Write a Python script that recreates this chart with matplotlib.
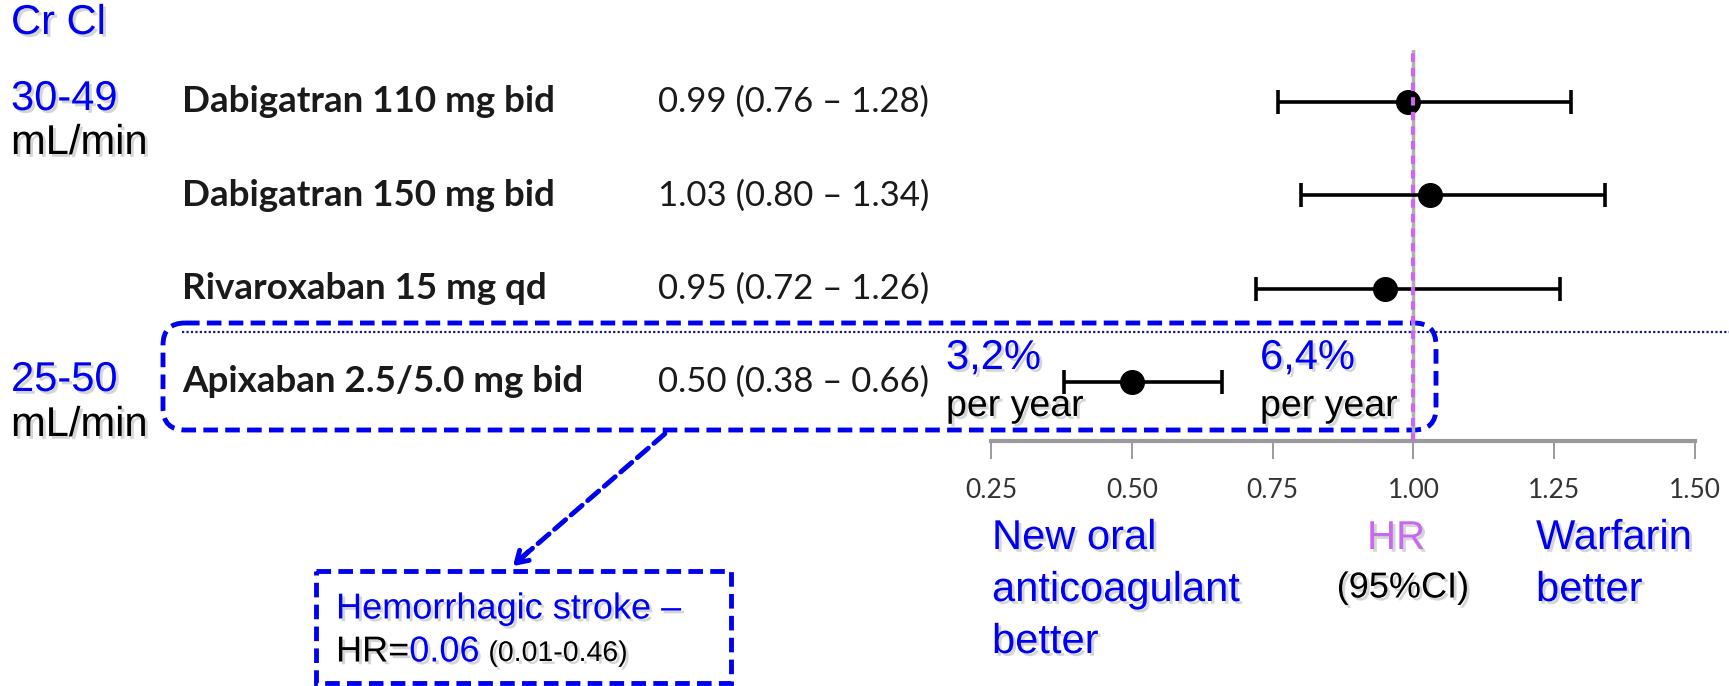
import matplotlib
matplotlib.use("Agg")
import matplotlib.pyplot as plt
import numpy as np
from matplotlib.patches import FancyBboxPatch, Rectangle
from matplotlib.transforms import blended_transform_factory
import matplotlib.patheffects as pe

# ---------------- data ----------------
drugs = ["Dabigatran 110 mg bid", "Dabigatran 150 mg bid",
         "Rivaroxaban 15 mg qd", "Apixaban 2.5/5.0 mg bid"]
hr = np.array([0.99, 1.03, 0.95, 0.50])
ci_low = np.array([0.76, 0.80, 0.72, 0.38])
ci_high = np.array([1.28, 1.34, 1.26, 0.66])
hr_labels = ["0.99 (0.76 \u2013 1.28)", "1.03 (0.80 \u2013 1.34)",
             "0.95 (0.72 \u2013 1.26)", "0.50 (0.38 \u2013 0.66)"]
xticks = [0.25, 0.50, 0.75, 1.00, 1.25, 1.50]
xtick_labels = ["0.25", "0.50", "0.75", "1.00", "1.25", "1.50"]

W, H = 1729, 686
BLUE = "#0000f0"
PURPLE = "#c86af0"

fig = plt.figure(figsize=(W / 100, H / 100), dpi=100)

# overlay axes in pixel units for annotations
ov = fig.add_axes([0, 0, 1, 1])
ov.set_xlim(0, W)
ov.set_ylim(H, 0)
ov.axis("off")

# forest axes: x 0.25 -> px 991, 1.50 -> px 1695 ; top px 50, bottom (axis) px 441
ax_l, ax_r, ax_t, ax_b = 991, 1695, 50, 441
ax = fig.add_axes([ax_l / W, 1 - ax_b / H, (ax_r - ax_l) / W, (ax_b - ax_t) / H])
ax.patch.set_alpha(0)
row0_px, row_step = 102, 93.33
rows = np.arange(len(drugs))
ax.set_xlim(0.25, 1.50)
ax.set_ylim((ax_b - row0_px) / row_step, (ax_t - row0_px) / row_step)
for s in ["top", "left", "right"]:
    ax.spines[s].set_visible(False)
ax.spines["bottom"].set_color("#9a9a9a")
ax.spines["bottom"].set_linewidth(3)
ax.set_yticks([])
ax.set_xticks(xticks)
ax.set_xticklabels(xtick_labels, fontfamily="Lato", fontsize=19, color="#333333")
ax.tick_params(axis="x", length=13, width=1.2, color="#8a8a8a", pad=14)

# reference line at HR = 1
ax.axvline(1.0, color="#b0b0b0", lw=2.5, zorder=1)
ax.axvline(1.0, color=PURPLE, lw=3, ls=(0, (2, 1.5)), zorder=4)

ax.errorbar(hr, rows, xerr=[hr - ci_low, ci_high - hr], fmt="o", color="black",
            ms=17, elinewidth=2.6, capsize=8.6, capthick=2.6, zorder=3, clip_on=False)

# drug names and HR text
tr = blended_transform_factory(fig.transFigure, ax.transData)
for r, name, lab in zip(rows, drugs, hr_labels):
    ax.text(182 / W, r, name, transform=tr, fontfamily="Lato", fontweight="bold",
            fontsize=26.5, va="center", ha="left", color="#1a1a1a")
    ax.text(658 / W, r, lab, transform=tr, fontfamily="Lato",
            fontsize=25, va="center", ha="left", color="#1a1a1a")

# separator dotted line
ov.plot([182, W], [332, 332], color="#1a1a80", lw=1.6, ls=(0, (1, 1)))

shadow = [pe.withSimplePatchShadow(offset=(2, -2), shadow_rgbFace="#888888", alpha=0.35)]

def t(x, y, s, color=BLUE, size=30, ha="left", **kw):
    return ov.text(x, y, s, color=color, fontsize=size, fontfamily="Liberation Sans",
                   ha=ha, va="center", path_effects=shadow, **kw)

t(11, 23, "Cr Cl")
t(11, 99, "30-49")
t(11, 143, "mL/min", color="black")
t(11, 380, "25-50")
t(11, 425, "mL/min", color="black")

t(946, 358, "3,2%")
t(946, 406, "per year", color="black", size=27)
t(1260, 358, "6,4%")
t(1260, 406, "per year", color="black", size=27)

t(992, 538, "New oral")
t(992, 590, "anticoagulant")
t(992, 642, "better")
t(1396, 538, "HR", color=PURPLE, ha="center", size=29)
t(1403, 588, "(95%CI)", color="black", size=26, ha="center")
t(1536, 538, "Warfarin")
t(1536, 590, "better")

# rounded dashed box around Apixaban row
box = FancyBboxPatch((163, 323), 1436 - 163, 430 - 323,
                     boxstyle="round,pad=0,rounding_size=22",
                     fill=False, ec=BLUE, lw=3.5, ls=(0, (3, 1.5)))
ov.add_patch(box)

# arrow to hemorrhagic stroke box
ov.annotate("", xy=(519, 560), xytext=(667, 432),
            arrowprops=dict(arrowstyle="-", color=BLUE, lw=3.5, ls=(0, (3, 1.5))))
ov.annotate("", xy=(511, 568), xytext=(530, 550),
            arrowprops=dict(arrowstyle="->,head_length=0.8,head_width=0.5",
                            color=BLUE, lw=3.5))

rect = Rectangle((316, 571), 731 - 316, 683 - 571, fill=False, ec=BLUE,
                 lw=3.5, ls=(0, (3, 1.5)))
ov.add_patch(rect)
t(336, 609, "Hemorrhagic stroke \u2013", size=26)

# HR line composed of parts placed one after another
renderer = fig.canvas.get_renderer()
x = 336
parts = [("HR=", "black", 26, 0, 652), ("0.06", BLUE, 26, 9, 652),
         ("(0.01-0.46)", "black", 20.5, 0, 654)]
for s, c, size, gap, y in parts:
    txt = t(x, y, s, color=c, size=size)
    bb = txt.get_window_extent(renderer=renderer)
    x += bb.width + gap

fig.savefig("out.png", dpi=100)
